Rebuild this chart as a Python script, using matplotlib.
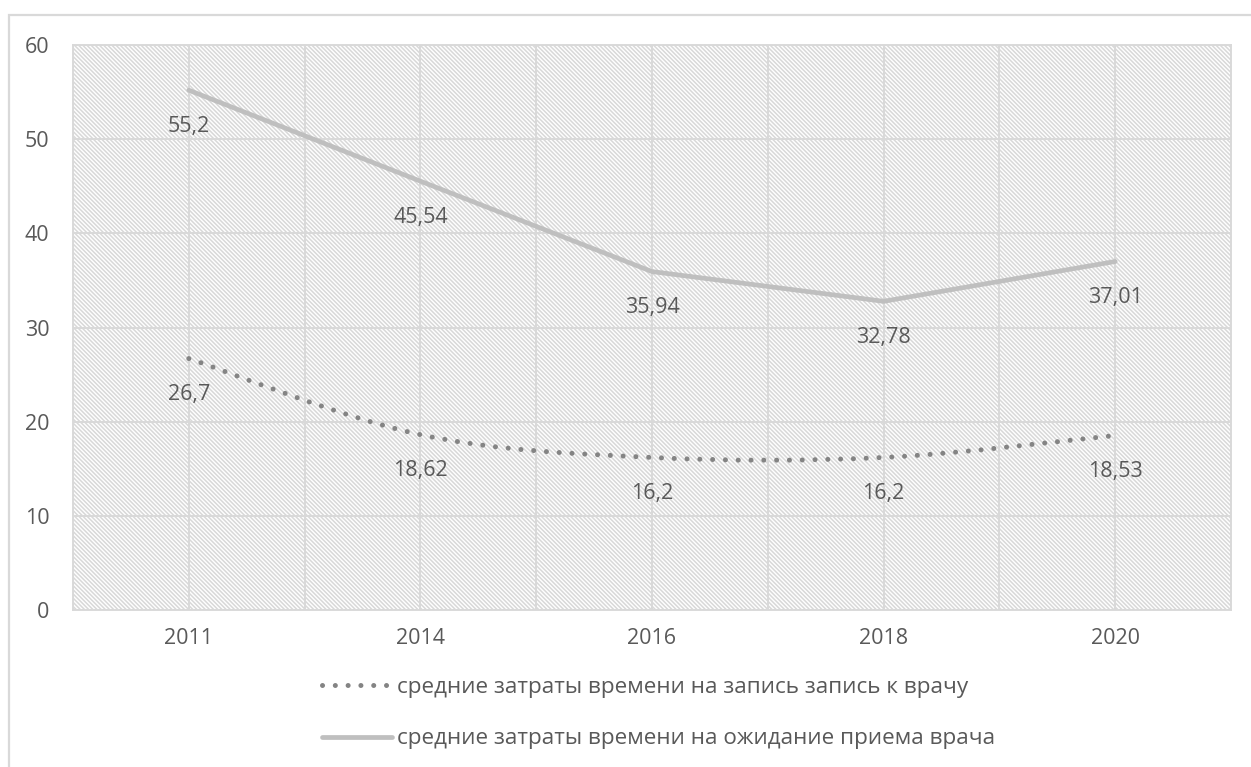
import matplotlib
matplotlib.use("Agg")
import matplotlib.pyplot as plt
from matplotlib.patches import Rectangle, PathPatch
from matplotlib.path import Path
from matplotlib.lines import Line2D
from matplotlib.ticker import MultipleLocator, FixedLocator

# Data
years = ["2011", "2014", "2016", "2018", "2020"]
booking_time = [26.7, 18.62, 16.2, 16.2, 18.53]
waiting_time = [55.2, 45.54, 35.94, 32.78, 37.01]
booking_label = "средние затраты времени на запись запись к врачу"
waiting_label = "средние затраты времени на ожидание приема врача"

plt.rcParams["font.family"] = ["Open Sans", "DejaVu Sans"]
plt.rcParams["hatch.linewidth"] = 1.1

TEXT = "#595959"
GRID = "#d9d9d9"
FS = 15.5
LEG_FS = 16.2

W, H = 1251, 767
fig = plt.figure(figsize=(W / 100, H / 100), dpi=100)
fig.patch.set_facecolor("white")

# chart frame (left and top edges visible)
fig.add_artist(Rectangle((9 / W, -0.05), 1.2, 1.05 - 15 / H,
                         transform=fig.transFigure, fill=False,
                         edgecolor=GRID, linewidth=1.6))

left, right, top, bottom = 73, 1231, 45, 610
ax = fig.add_axes([left / W, 1 - bottom / H, (right - left) / W, (bottom - top) / H])

# hatched plot area
ax.add_patch(Rectangle((0, 0), 1, 1, transform=ax.transAxes, facecolor="white",
                       edgecolor="#d8d8d8", hatch="\\" * 8, linewidth=0, zorder=0))

x = list(range(len(years)))
ax.set_xlim(-0.5, len(years) - 0.5)
ax.set_ylim(0, 60)
ax.yaxis.set_major_locator(MultipleLocator(10))
ax.xaxis.set_major_locator(FixedLocator(x))
ax.set_xticks(x)
ax.set_xticklabels(years)
ax.xaxis.set_minor_locator(FixedLocator([i + 0.5 for i in x[:-1]]))
ax.set_axisbelow(True)
ax.grid(True, which="both", color=GRID, linewidth=1.4)
ax.tick_params(which="both", length=0)
ax.tick_params(axis="y", pad=17, labelsize=FS, labelcolor=TEXT)
ax.tick_params(axis="x", pad=13, labelsize=FS, labelcolor=TEXT)
for s in ax.spines.values():
    s.set_color(GRID)
    s.set_linewidth(1.4)

# waiting time: straight segments
ax.plot(x, waiting_time, color="#bfbfbf", linewidth=3.4, solid_capstyle="round",
        solid_joinstyle="round", zorder=3)

# booking time: smoothed Bezier through the points
verts = [(x[0], booking_time[0])]
codes = [Path.MOVETO]
n = len(x)
for i in range(n - 1):
    p0 = (x[max(i - 1, 0)], booking_time[max(i - 1, 0)])
    p1 = (x[i], booking_time[i])
    p2 = (x[i + 1], booking_time[i + 1])
    p3 = (x[min(i + 2, n - 1)], booking_time[min(i + 2, n - 1)])
    c1 = (p1[0] + (p2[0] - p0[0]) / 6, p1[1] + (p2[1] - p0[1]) / 6)
    c2 = (p2[0] - (p3[0] - p1[0]) / 6, p2[1] - (p3[1] - p1[1]) / 6)
    verts += [c1, c2, p2]
    codes += [Path.CURVE4] * 3
dot_style = (0, (0.01, 2.55))
DOT_C = "#848484"
ax.add_patch(PathPatch(Path(verts, codes), fill=False, edgecolor=DOT_C,
                       linewidth=3.6, linestyle=dot_style, capstyle="round", zorder=3))

# value labels below points
for series in (waiting_time, booking_time):
    for xi, v in zip(x, series):
        ax.annotate(f"{v:g}".replace(".", ","), (xi, v), xytext=(0, -26),
                    textcoords="offset points", ha="center", va="center",
                    fontsize=FS, color=TEXT, zorder=4)

handles = [
    Line2D([], [], color=DOT_C, linewidth=3.6, linestyle=dot_style,
           dash_capstyle="round"),
    Line2D([], [], color="#bfbfbf", linewidth=3.4, solid_capstyle="round"),
]
leg = fig.legend(handles, [booking_label, waiting_label], loc="upper left",
                 bbox_to_anchor=(322 / W, 1 - 677 / H), frameon=False,
                 fontsize=LEG_FS, handlelength=3.1, handletextpad=0.25,
                 labelspacing=1.35, borderpad=0, borderaxespad=0)
for t in leg.get_texts():
    t.set_color(TEXT)

fig.savefig("out.png", dpi=100)
